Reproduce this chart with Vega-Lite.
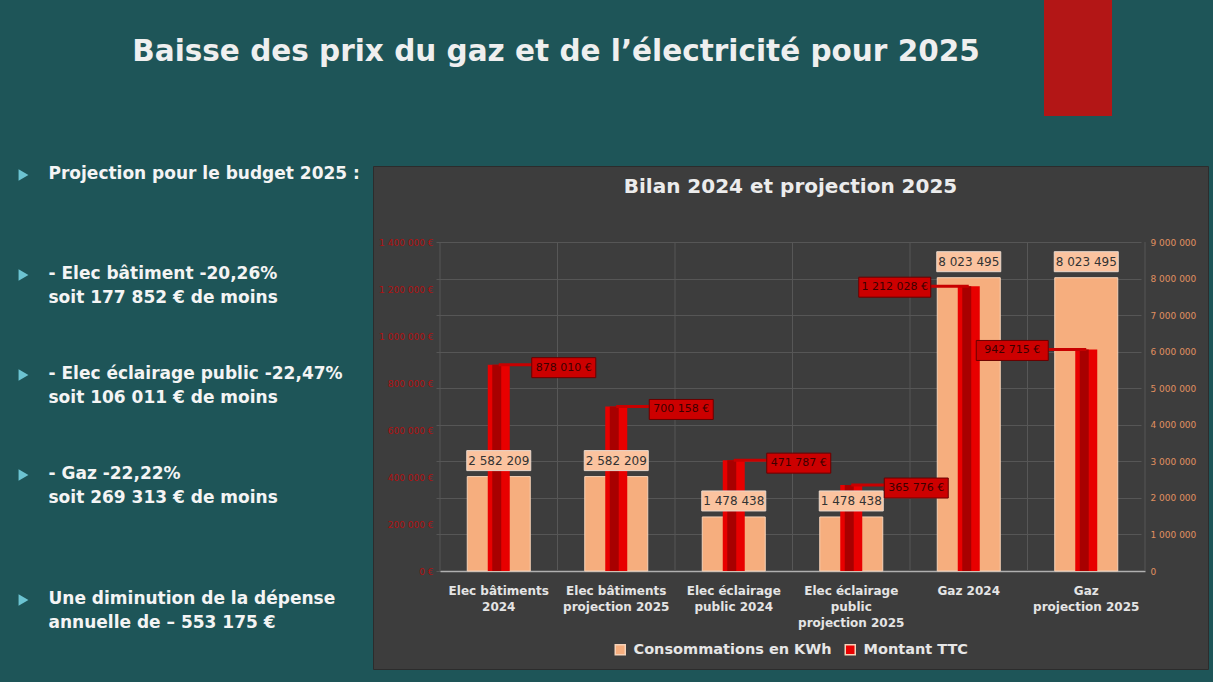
{
  "$schema": "https://vega.github.io/schema/vega-lite/v6.json",
  "background": "#1e5558",
  "padding": {"left": 0, "top": 0, "right": 5, "bottom": 14},
  "config": {
    "font": "DejaVu Sans",
    "locale": {"number": {"decimal": ",", "thousands": " ", "grouping": [3], "currency": ["", " €"]}},
    "view": {"stroke": null},
    "axis": {"ticks": false, "tickSize": 0, "domain": false, "grid": false, "title": null}
  },
  "datasets": {
    "conso": [
      {"cat": "Elec bâtiments\n2024", "kwh": 2582209, "ttc": 878010},
      {"cat": "Elec bâtiments\nprojection 2025", "kwh": 2582209, "ttc": 700158},
      {"cat": "Elec éclairage\npublic 2024", "kwh": 1478438, "ttc": 471787},
      {"cat": "Elec éclairage\npublic\nprojection 2025", "kwh": 1478438, "ttc": 365776},
      {"cat": "Gaz 2024", "kwh": 8023495, "ttc": 1212028},
      {"cat": "Gaz\nprojection 2025", "kwh": 8023495, "ttc": 942715}
    ],
    "texte": [
      {"ligne": 1, "texte": ["Projection pour le budget 2025 :"]},
      {"ligne": 5, "texte": ["- Elec bâtiment  -20,26%", "soit 177 852 € de moins"]},
      {"ligne": 9, "texte": ["- Elec éclairage public -22,47%", "soit 106 011 € de moins"]},
      {"ligne": 13, "texte": ["- Gaz -22,22%", "soit 269 313 € de moins"]},
      {"ligne": 18, "texte": ["Une diminution de la dépense", "annuelle de  – 553 175 €"]}
    ]
  },
  "bounds": "full",
  "spacing": 49,
  "resolve": {"scale": {"color": "independent"}},
  "vconcat": [
    {
      "bounds": "flush",
      "spacing": 0,
      "hconcat": [
        {
          "width": 1044, "height": 100,
          "data": {"values": [{"titre": "Baisse des prix du gaz et de l’électricité pour 2025"}]},
          "mark": {"type": "text", "fontSize": 29.5, "fontWeight": "bold", "color": "#efefef", "dx": 34, "dy": 2, "baseline": "middle"},
          "encoding": {"text": {"field": "titre", "type": "nominal"}}
        },
        {
          "width": 68, "height": 116,
          "view": {"fill": "#b31616", "stroke": null},
          "data": {"values": [{"titre": ""}]},
          "mark": {"type": "text"},
          "encoding": {"text": {"field": "titre", "type": "nominal"}}
        }
      ]
    },
    {
      "bounds": "flush",
      "spacing": 0,
      "resolve": {"scale": {"color": "independent"}},
      "hconcat": [
        {
          "width": 373, "height": 503,
          "data": {"name": "texte"},
          "layer": [
            {
              "mark": {"type": "point", "shape": "triangle-right", "filled": true, "color": "#6cc4d2", "size": 130, "opacity": 1, "xOffset": -163, "yOffset": 9},
              "encoding": {"y": {"field": "ligne", "type": "quantitative", "scale": {"domain": [1, 21.12], "reverse": true, "nice": false, "zero": false}, "axis": null}}
            },
            {
              "mark": {"type": "text", "align": "left", "baseline": "top", "dx": -138, "fontSize": 17, "fontWeight": "bold", "color": "#f4f4f4", "lineHeight": 24},
              "encoding": {
                "y": {"field": "ligne", "type": "quantitative", "axis": null},
                "text": {"field": "texte", "type": "nominal"}
              }
            }
          ]
        },
        {
          "width": 835, "height": 503,
          "view": {"fill": "#3d3d3d", "stroke": "#2c2c2c"},
          "title": {"text": "Bilan 2024 et projection 2025", "offset": -31, "fontSize": 20, "fontWeight": "bold", "color": "#ececec", "anchor": "middle"},
          "data": {"name": "conso"},
          "resolve": {"scale": {"y": "independent"}},
          "layer": [
            {
              "mark": {"type": "rule", "color": "#575757", "strokeWidth": 1},
              "encoding": {
                "x": {"field": "cat", "type": "nominal", "sort": null, "bandPosition": 0,
                  "scale": {"range": [67, 772], "paddingInner": 0, "paddingOuter": 0},
                  "axis": {"orient": "bottom", "offset": -98, "domain": true, "domainColor": "#b0b0b0", "domainWidth": 1.5, "labelAngle": 0, "labelColor": "#e4e4e4", "labelFontWeight": "bold", "labelFontSize": 12, "labelLineHeight": 16, "labelPadding": 14, "labelBaseline": "top", "labelExpr": "split(datum.label, '\\n')"}},
                "y": {"datum": 0, "type": "quantitative", "scale": {"domain": [0, 9000000], "range": [405, 76], "nice": false, "zero": false}, "axis": null},
                "y2": {"datum": 9000000}
              }
            },
            {
              "transform": [{"filter": {"field": "cat", "equal": "Gaz\nprojection 2025"}}],
              "mark": {"type": "rule", "color": "#575757", "strokeWidth": 1},
              "encoding": {
                "x": {"field": "cat", "type": "nominal", "sort": null, "bandPosition": 1},
                "y": {"datum": 0, "type": "quantitative", "scale": {"domain": [0, 9000000], "range": [405, 76], "nice": false, "zero": false}, "axis": null},
                "y2": {"datum": 9000000}
              }
            },
            {
              "mark": {"type": "bar", "width": 63, "stroke": "#f6d2b8", "strokeWidth": 1},
              "encoding": {
                "x": {"field": "cat", "type": "nominal", "sort": null},
                "y": {"field": "kwh", "type": "quantitative", "scale": {"domain": [0, 9000000], "range": [405, 76], "nice": false, "zero": false},
                  "axis": {"orient": "right", "offset": -63, "grid": true, "gridColor": "#565656", "labelColor": "#e09060", "labelFontSize": 9, "labelPadding": 5, "values": [0, 1000000, 2000000, 3000000, 4000000, 5000000, 6000000, 7000000, 8000000, 9000000], "format": ",.0f"}},
                "color": {"datum": "Consommations en KWh", "type": "nominal",
                  "scale": {"domain": ["Consommations en KWh", "Montant TTC"], "range": ["#f6ae7e", "#e80000"]},
                  "legend": {"orient": "none", "legendX": 240, "legendY": 476, "direction": "horizontal", "title": null, "labelColor": "#e6e6e6", "labelFontSize": 14.5, "labelFontWeight": "bold", "labelLimit": 400, "labelOffset": 6, "symbolType": "square", "symbolSize": 100, "columnPadding": 10, "padding": 0, "symbolOpacity": 1}}
              }
            },
            {
              "mark": {"type": "bar", "width": 22},
              "encoding": {
                "x": {"field": "cat", "type": "nominal", "sort": null},
                "y": {"field": "ttc", "type": "quantitative", "scale": {"domain": [0, 1400000], "range": [405, 76], "nice": false, "zero": false},
                  "axis": {"orient": "left", "offset": -67, "labelColor": "#b01010", "labelFontSize": 9, "labelPadding": 7, "values": [0, 200000, 400000, 600000, 800000, 1000000, 1200000, 1400000], "format": "$,.0f"}},
                "color": {"datum": "Montant TTC", "type": "nominal"}
              }
            },
            {
              "mark": {"type": "bar", "width": 9, "xOffset": -2, "color": "#a80000"},
              "encoding": {
                "x": {"field": "cat", "type": "nominal", "sort": null},
                "y": {"field": "ttc", "type": "quantitative", "scale": {"domain": [0, 1400000], "range": [405, 76], "nice": false, "zero": false}, "axis": null}
              }
            },
            {
              "mark": {"type": "tick", "size": 64, "thickness": 20, "yOffset": -16, "color": "#fbc39f", "stroke": "#e9d8cc", "strokeWidth": 1, "opacity": 1},
              "encoding": {
                "x": {"field": "cat", "type": "nominal", "sort": null},
                "y": {"field": "kwh", "type": "quantitative", "scale": {"domain": [0, 9000000], "range": [405, 76], "nice": false, "zero": false}, "axis": null}
              }
            },
            {
              "mark": {"type": "text", "yOffset": -16, "baseline": "middle", "fontSize": 12, "color": "#333333"},
              "encoding": {
                "x": {"field": "cat", "type": "nominal", "sort": null},
                "y": {"field": "kwh", "type": "quantitative", "scale": {"domain": [0, 9000000], "range": [405, 76], "nice": false, "zero": false}, "axis": null},
                "text": {"field": "kwh", "type": "quantitative", "format": ",.0f"}
              }
            },
            {
              "transform": [{"filter": "indexof(datum.cat, 'Gaz') != 0"}],
              "layer": [
                {
                  "mark": {"type": "tick", "size": 34, "thickness": 3, "xOffset": 17, "color": "#c80000", "opacity": 1},
                  "encoding": {
                    "x": {"field": "cat", "type": "nominal", "sort": null},
                    "y": {"field": "ttc", "type": "quantitative", "scale": {"domain": [0, 1400000], "range": [405, 76], "nice": false, "zero": false}, "axis": null}
                  }
                },
                {
                  "mark": {"type": "tick", "size": 64, "thickness": 20, "xOffset": 65, "yOffset": 3, "color": "#cc0000", "stroke": "#6a0000", "strokeWidth": 1, "opacity": 1},
                  "encoding": {
                    "x": {"field": "cat", "type": "nominal", "sort": null},
                    "y": {"field": "ttc", "type": "quantitative", "scale": {"domain": [0, 1400000], "range": [405, 76], "nice": false, "zero": false}, "axis": null}
                  }
                },
                {
                  "mark": {"type": "text", "xOffset": 65, "yOffset": 3, "baseline": "middle", "fontSize": 11, "color": "#3c0000"},
                  "encoding": {
                    "x": {"field": "cat", "type": "nominal", "sort": null},
                    "y": {"field": "ttc", "type": "quantitative", "scale": {"domain": [0, 1400000], "range": [405, 76], "nice": false, "zero": false}, "axis": null},
                    "text": {"field": "ttc", "type": "quantitative", "format": "$,.0f"}
                  }
                }
              ]
            },
            {
              "transform": [{"filter": "indexof(datum.cat, 'Gaz') == 0"}],
              "layer": [
                {
                  "mark": {"type": "tick", "size": 40, "thickness": 3, "xOffset": -20, "color": "#c80000", "opacity": 1},
                  "encoding": {
                    "x": {"field": "cat", "type": "nominal", "sort": null},
                    "y": {"field": "ttc", "type": "quantitative", "scale": {"domain": [0, 1400000], "range": [405, 76], "nice": false, "zero": false}, "axis": null}
                  }
                },
                {
                  "mark": {"type": "tick", "size": 72, "thickness": 20, "xOffset": -74, "yOffset": 1, "color": "#cc0000", "stroke": "#6a0000", "strokeWidth": 1, "opacity": 1},
                  "encoding": {
                    "x": {"field": "cat", "type": "nominal", "sort": null},
                    "y": {"field": "ttc", "type": "quantitative", "scale": {"domain": [0, 1400000], "range": [405, 76], "nice": false, "zero": false}, "axis": null}
                  }
                },
                {
                  "mark": {"type": "text", "xOffset": -74, "yOffset": 1, "baseline": "middle", "fontSize": 11, "color": "#3c0000"},
                  "encoding": {
                    "x": {"field": "cat", "type": "nominal", "sort": null},
                    "y": {"field": "ttc", "type": "quantitative", "scale": {"domain": [0, 1400000], "range": [405, 76], "nice": false, "zero": false}, "axis": null},
                    "text": {"field": "ttc", "type": "quantitative", "format": "$,.0f"}
                  }
                }
              ]
            }
          ]
        }
      ]
    }
  ]
}
